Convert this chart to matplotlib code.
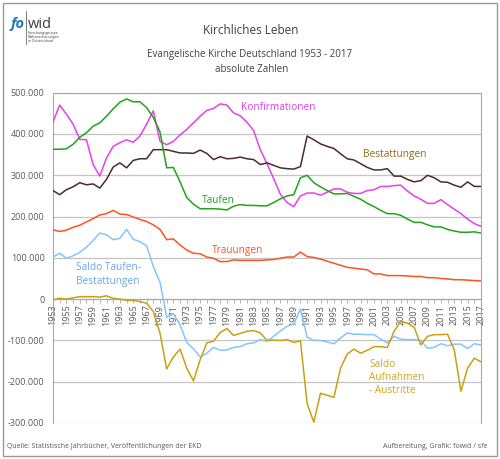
import matplotlib.pyplot as plt
from matplotlib.lines import Line2D
from matplotlib.patches import Rectangle
from matplotlib.ticker import FuncFormatter, MultipleLocator

plt.rcParams['font.family'] = ['Open Sans', 'DejaVu Sans']

years = list(range(1953, 2018))

# values in thousands
konfirmationen = [429, 470, 448, 424, 387, 386, 326, 298, 342, 370, 379, 386, 380, 395, 424, 456,
                  382, 374, 382, 398, 411, 427, 443, 457, 462, 473, 470, 451, 444, 429,
                  408, 362, 328, 292, 254, 234, 224, 250, 257, 257, 252, 259, 267, 267, 259, 256,
                  256, 263, 265, 273, 273, 275, 276, 262, 250, 242, 232, 232, 241, 229, 218, 207,
                  194, 183, 176]
bestattungen = [263, 253, 265, 272, 282, 277, 279, 269, 290, 320, 330, 318, 336, 340, 340, 362,
                362, 362, 358, 354, 354, 353, 361, 353, 338, 345, 340, 341, 344, 340,
                338, 326, 330, 324, 318, 316, 315, 321, 395, 386, 376, 370, 365, 352, 340, 337,
                328, 319, 313, 313, 316, 298, 298, 290, 284, 287, 300, 294, 284, 283, 276, 271,
                284, 273, 273]
taufen = [363, 363, 364, 375, 392, 403, 419, 427, 443, 461, 477, 485, 478, 478, 464, 440,
          405, 318, 319, 284, 246, 230, 219, 219, 219, 218, 216, 225, 229, 227,
          227, 226, 226, 234, 243, 250, 253, 294, 300, 282, 272, 263, 255, 255, 256, 249,
          242, 232, 224, 215, 207, 207, 203, 194, 186, 186, 180, 175, 175, 169, 165, 162,
          162, 163, 160]
trauungen = [168, 164, 167, 174, 179, 187, 195, 204, 207, 215, 206, 205, 199, 193, 188, 180,
             169, 144, 146, 131, 119, 111, 110, 102, 99, 91, 91, 95, 94, 94,
             94, 94, 95, 96, 99, 102, 102, 114, 103, 101, 97, 92, 87, 82, 77, 75,
             73, 71, 61, 61, 57, 57, 57, 56, 55, 55, 52, 52, 50, 49, 47, 47,
             46, 45, 44]
saldo_tb = [102, 111, 99, 105, 113, 126, 142, 160, 156, 144, 147, 169, 145, 139, 129, 79,
            41, -44, -35, -62, -105, -120, -140, -131, -117, -124, -123, -117, -115, -108,
            -106, -98, -102, -90, -77, -66, -60, -24, -92, -100, -100, -104, -108, -94, -82, -85,
            -85, -86, -86, -97, -106, -90, -97, -98, -98, -100, -119, -117, -108, -113, -109, -109,
            -120, -108, -111]
saldo_aa = [-2, 2, 0, 3, 6, 6, 6, 5, 8, 2, 0, -3, -3, -6, -10, -30,
            -82, -169, -140, -121, -167, -198, -147, -106, -102, -81, -71, -88, -83, -78,
            -76, -82, -100, -99, -100, -98, -105, -101, -253, -298, -228, -233, -238, -167, -133, -121,
            -131, -124, -115, -115, -117, -78, -54, -58, -68, -111, -90, -86, -86, -85, -123, -223,
            -167, -143, -152]

W, H = 500, 459
fig = plt.figure(figsize=(W / 100, H / 100), dpi=100)
ax = fig.add_axes([53 / W, 1 - 423 / H, 428 / W, 330.3 / H])


def fx(x):
    return x / W


def fy(y):
    return 1 - y / H


grid_c = '#c4c4c4'
lw = 1.1
series = [
    (konfirmationen, '#e840ec'),
    (bestattungen, '#4a2b2e'),
    (taufen, '#22a31a'),
    (trauungen, '#ff5222'),
    (saldo_tb, '#82c6ff'),
    (saldo_aa, '#c9a012'),
]
for vals, col in series:
    ax.plot(years, [v * 1000 for v in vals], color=col, lw=lw, zorder=3)

ax.set_xlim(1953, 2017)
ax.set_ylim(-300000, 500000)
ax.yaxis.set_major_locator(MultipleLocator(100000))
ax.yaxis.set_major_formatter(FuncFormatter(
    lambda v, p: '0' if v == 0 else f'{int(v):,}'.replace(',', '.')))
ax.grid(axis='y', color=grid_c, lw=0.9, zorder=0)
ax.set_axisbelow(True)

for s in ['left', 'right', 'top']:
    ax.spines[s].set_color('#a8a8a8')
    ax.spines[s].set_linewidth(0.8)
ax.spines['bottom'].set_position(('data', 0))
ax.spines['bottom'].set_color('#a8a8a8')
ax.spines['bottom'].set_linewidth(0.8)

ax.set_xticks(years)
ax.set_xticklabels([str(y) if (y - 1953) % 2 == 0 else '' for y in years])
ax.tick_params(axis='x', length=3, width=0.6, color='#a8a8a8', pad=1,
               labelrotation=90, labelsize=6.5, labelcolor='#595959')
ax.tick_params(axis='y', length=0, pad=6, labelsize=6.5, labelcolor='#595959')

# series labels
lab = dict(fontsize=7.3, va='center', ha='left', transform=fig.transFigure)
fig.text(fx(241), fy(107.7), 'Konfirmationen', color='#e040e8', **lab)
fig.text(fx(363), fy(154.5), 'Bestattungen', color='#8a6a1c', **lab)
fig.text(fx(202), fy(200.7), 'Taufen', color='#22a31a', **lab)
fig.text(fx(212), fy(250.5), 'Trauungen', color='#ff5222', **lab)
fig.text(fx(76), fy(268), 'Saldo Taufen-', color='#6aa6e6', **lab)
fig.text(fx(76), fy(281.7), 'Bestattungen', color='#6aa6e6', **lab)
fig.text(fx(369), fy(364.3), 'Saldo', color='#d0a620', **lab)
fig.text(fx(369), fy(378), 'Aufnahmen', color='#d0a620', **lab)
fig.text(fx(369), fy(390.7), '- Austritte', color='#d0a620', **lab)

# titles
fig.text(fx(251), fy(34), 'Kirchliches Leben', ha='center', va='baseline',
         fontsize=8.5, color='#404040')
fig.text(fx(250), fy(57), 'Evangelische Kirche Deutschland 1953 - 2017', ha='center',
         va='baseline', fontsize=7, color='#404040')
fig.text(fx(252), fy(72), 'absolute Zahlen', ha='center', va='baseline',
         fontsize=7, color='#404040')

# footer
fig.text(fx(7), fy(447), 'Quelle: Statistische Jahrbücher, Veröffentlichungen der EKD',
         ha='left', va='center', fontsize=5, color='#595959')
fig.text(fx(487), fy(447), 'Aufbereitung, Grafik: fowid / sfe',
         ha='right', va='center', fontsize=5, color='#595959')

# logo
fig.text(fx(11), fy(28), 'fo', ha='left', va='baseline', fontsize=10.5,
         fontweight='bold', fontstyle='italic', color='#1f78b0')
fig.text(fx(28), fy(28), 'wid', ha='left', va='baseline', fontsize=10.5,
         color='#3a3a3a')
fig.add_artist(Line2D([fx(26), fx(26)], [fy(11), fy(44)], color='#666666', lw=0.6,
                      transform=fig.transFigure))
fig.text(fx(27.5), fy(31), 'Forschungsgruppe\nWeltanschauungen\nin Deutschland',
         ha='left', va='top', fontsize=2.6, color='#444444', linespacing=1.0)

# outer border
fig.add_artist(Rectangle((fx(3), fy(456)), 494 / W, 453 / H, transform=fig.transFigure,
                         fill=False, ec='#9a9a9a', lw=1))

fig.savefig('out.png', dpi=100)
